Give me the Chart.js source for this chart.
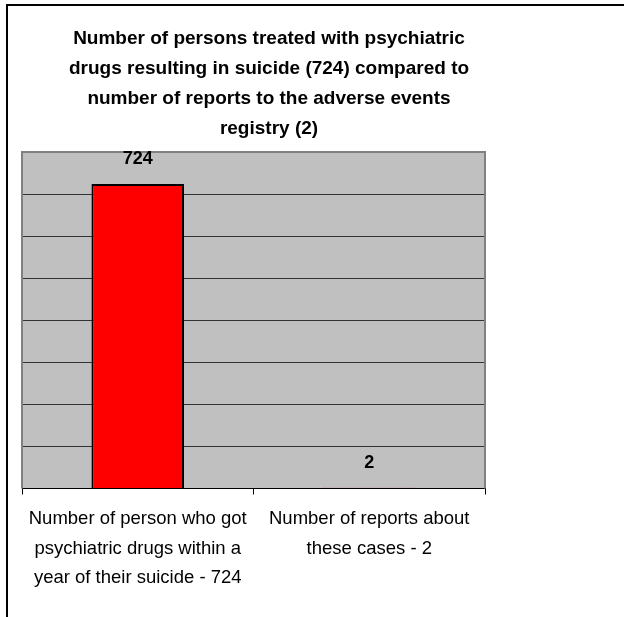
<!DOCTYPE html>
<html>
<head>
<meta charset="utf-8">
<script src="https://cdn.jsdelivr.net/npm/chart.js@4.4.1/dist/chart.umd.min.js"></script>
<style>
    html, body { margin: 0; padding: 0; background: #fff; }
    #wrap { position: relative; width: 624px; height: 617px; }
    #frame { position: absolute; left: 6px; top: 4px; right: 0; bottom: 0; border-left: 2px solid #000; border-top: 2px solid #000; pointer-events: none; }
    canvas { position: absolute; left: 0; top: 0; }
</style>
</head>
<body>
<div id="wrap">
    <canvas id="chart" width="624" height="617"></canvas>
    <div id="frame"></div>
</div>
<script>
// 数据
const titleLines = [
    'Number of persons treated with psychiatric',
    'drugs resulting in suicide (724) compared to',
    'number of reports to the adverse events',
    'registry (2)'
];
const categories = [
    ['Number of person who got', 'psychiatric drugs within a', 'year of their suicide - 724'],
    ['Number of reports about', 'these cases - 2']
];
const values = [724, 2];
const yMax = 800;
const yStep = 100;

const FONT = '"Liberation Sans", Arial, sans-serif';

// 绘图区背景和边框
const plotArea = {
    id: 'plotArea',
    beforeDraw(chart) {
        const { ctx, chartArea: a } = chart;
        ctx.save();
        ctx.fillStyle = '#C0C0C0';
        ctx.fillRect(a.left, a.top, a.right - a.left, a.bottom - a.top);
        ctx.restore();
    },
    beforeDatasetsDraw(chart) {
        const { ctx, chartArea: a } = chart;
        ctx.save();
        ctx.strokeStyle = '#808080';
        ctx.lineWidth = 2;
        ctx.beginPath();
        ctx.moveTo(a.left, a.bottom);
        ctx.lineTo(a.left, a.top);
        ctx.lineTo(a.right, a.top);
        ctx.lineTo(a.right, a.bottom);
        ctx.stroke();
        ctx.restore();
    }
};

// 数值标签
const valueLabels = {
    id: 'valueLabels',
    afterDatasetsDraw(chart) {
        const { ctx } = chart;
        const meta = chart.getDatasetMeta(0);
        ctx.save();
        ctx.font = 'bold 18px ' + FONT;
        ctx.fillStyle = '#000';
        ctx.textAlign = 'center';
        ctx.textBaseline = 'middle';
        meta.data.forEach((bar, i) => {
            ctx.fillText(String(values[i]), bar.x, bar.y - 25);
        });
        ctx.restore();
    }
};

new Chart(document.getElementById('chart').getContext('2d'), {
    type: 'bar',
    data: {
        labels: categories,
        datasets: [{
            data: values,
            backgroundColor: '#FF0000',
            borderColor: '#000000',
            borderWidth: 2,
            barPercentage: 0.4,
            categoryPercentage: 1.0
        }]
    },
    options: {
        responsive: false,
        animation: false,
        layout: { padding: { left: 6, right: 92, top: 0, bottom: 14 } },
        plugins: {
            legend: { display: false },
            tooltip: { enabled: false },
            title: {
                display: true,
                text: titleLines,
                color: '#000',
                font: { family: FONT, size: 19, weight: 'bold', lineHeight: 30 / 19 },
                padding: { top: 24, bottom: 8 }
            }
        },
        scales: {
            x: {
                offset: true,
                grid: { display: true, drawOnChartArea: false, drawTicks: true, tickLength: 6, color: '#000', offset: true },
                border: { display: true, color: '#000', width: 1 },
                ticks: {
                    color: '#000',
                    padding: 10,
                    maxRotation: 0,
                    minRotation: 0,
                    autoSkip: false,
                    font: { family: FONT, size: 18.5, lineHeight: 29.5 / 18.5 }
                }
            },
            y: {
                min: 0,
                max: yMax,
                ticks: { display: false, stepSize: yStep },
                grid: {
                    drawTicks: false,
                    color: ctx => ctx.tick && ctx.tick.value === yMax ? '#808080' : '#333333'
                },
                border: { display: false },
                afterFit(scale) { scale.width = 16; }
            },
            y2: {
                position: 'right',
                display: true,
                ticks: { display: false },
                grid: { display: false },
                border: { display: false },
                afterFit(scale) { scale.width = 47; }
            }
        }
    },
    plugins: [plotArea, valueLabels]
});
</script>
</body>
</html>
